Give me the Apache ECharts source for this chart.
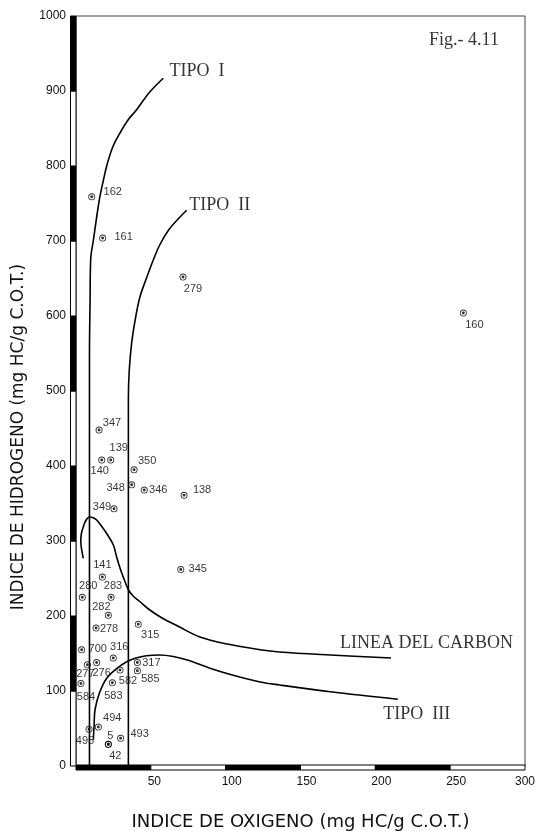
<!DOCTYPE html>
<html><head><meta charset="utf-8">
<script src="https://cdn.jsdelivr.net/npm/echarts@6/dist/echarts.min.js"></script>
<style>html,body{margin:0;padding:0;background:#fff}#c{width:539px;height:831px}</style>
</head><body><div id="c"></div>
<script>
// ---- data ----
const sampleIds = ['162','161','279','160','347','139','140','350','348','346','138','349','345','141','280','283','282','278','315','700','316','317','585','277','276','582','584','583','494','495','493','5','42'];
const oxygenIndex = [10.5,17.8,71.5,258.8,15.4,23.2,17.2,38.8,37.2,45.6,72.2,25.4,70.0,17.6,4.2,23.4,21.6,13.4,41.6,3.8,24.9,41.0,41.0,7.6,13.8,29.4,3.3,24.3,14.9,8.7,29.8,21.6,21.6];
const hydrogenIndex = [759,704,652,604,448,408,408,395,375,368,361,343,262,252,225,225,201,184,189,155,144,138,127,135,138,128,110,111,52,49,37,29,29];
const xTicks = [0,50,100,150,200,250,300];
const yTicks = [0,100,200,300,400,500,600,700,800,900,1000];
const tipoI = [[9,0],[9,550],[9.4,620],[9.8,675],[11.6,701],[15.6,755],[18.3,781],[20.5,800],[24.5,825],[29.4,844],[35,862],[40.5,875],[49,898],[58.3,917]];
const tipoII = [[35,0],[35,490],[35.6,528],[37.2,564],[40,600],[42.8,626],[47,650],[51.7,675],[56,695],[62,715],[69.5,732],[74,741]];
const lineaCarbon = [[4.9,277],[3.8,288],[3.2,300],[3.6,310],[4.9,319],[6.5,327],[8.9,332],[11.5,331],[13.8,328],[17,320],[20.5,310],[24.9,295],[27,280],[29.4,264],[32.7,246],[35,235],[38,227],[42.8,219],[48,210],[56.1,199],[69.5,185],[82.8,172],[100,163],[123,155],[136,152],[170,148],[210.5,144]];
const tipoIII = [[11.6,35],[12.1,55],[12.7,75],[15.6,97],[20.5,117],[27.2,130],[33.9,139],[40,144],[47,147],[56,148],[65,146],[75,141],[90,130],[105,121],[123,112],[136,108],[170,99],[215,89]];
const annotationTexts = ['TIPO  I','TIPO  II','LINEA DEL CARBON','TIPO  III','Fig.- 4.11'];
const annotationAnchors = [[62.5,926],[75.7,747],[176.4,164],[205.3,69],[235.9,968]];
const xTitle = 'INDICE DE OXIGENO (mg HC/g C.O.T.)';
const yTitle = 'INDICE DE HIDROGENO (mg HC/g C.O.T.)';

// ---- label placement (px offsets from each point) ----
const labelOffsets = [[21,-5],[21,-1],[10,12],[11,12],[13,-7],[8,-12],[-2,11],[13,-9],[-16,3],[14,0],[18,-5],[-12,-2],[17,-1],[0,-12],[6,-11],[2,-11],[-7,-8],[13,1],[12,11],[16,-1],[6,-11],[14,0],[13,8],[-2,9],[5,10],[8,11],[5,13],[1,13],[14,-9],[-4,12],[19,-4],[2,-8],[7,12]];

const chart = echarts.init(document.getElementById('c'), null, {renderer:'canvas'});
const SANS = '"Liberation Sans", Arial, sans-serif';
const SERIF = '"Liberation Serif", "Times New Roman", serif';
const ringPath = 'path://M0,-4A4,4 0 1,1 0,4A4,4 0 1,1 0,-4Z M0,-3A3,3 0 1,0 0,3A3,3 0 1,0 0,-3Z M0,-1.7A1.7,1.7 0 1,1 0,1.7A1.7,1.7 0 1,1 0,-1.7Z';

const pts = sampleIds.map((id,i)=>({
  value:[oxygenIndex[i], hydrogenIndex[i]], name:id,
  label:{offset: labelOffsets[i]}
}));

const xSegs = xTicks.slice(0,-1).map((t,i)=>[t, xTicks[i+1], i%2]);
const ySegs = yTicks.slice(0,-1).map((t,i)=>[t, yTicks[i+1], i%2]);

function curve(data){
  return {type:'line', data, showSymbol:false, symbol:'none', smooth:0.35, silent:true,
    lineStyle:{color:'#000', width:1.6}, z:3};
}

chart.setOption({
  animation:false,
  backgroundColor:'#fff',
  grid:{left:76, right:14, top:16, bottom:65, show:true, borderColor:'#444', borderWidth:1, backgroundColor:'transparent', outerBoundsMode:'none', containLabel:false},
  xAxis:{type:'value', min:0, max:300, interval:50,
    axisLine:{show:false}, axisTick:{show:false}, splitLine:{show:false},
    axisLabel:{margin:10, color:'#111', fontFamily:SANS, fontSize:12,
      formatter:v=> v===0 ? '' : (v===300 ? '{e|'+v+'}' : (v===50 ? '{f|'+v+'}' : '{s|'+v+'}')),
      rich:{s:{fontFamily:SANS,fontSize:12,color:'#111',padding:[0,0,0,12]}, f:{fontFamily:SANS,fontSize:12,color:'#111',padding:[0,0,0,7]}, e:{fontFamily:SANS,fontSize:12,color:'#111'}}},
    name:xTitle, nameLocation:'middle', nameGap:47,
    nameTextStyle:{fontFamily:'"DejaVu Sans", sans-serif', fontSize:18, color:'#111'}
  },
  yAxis:{type:'value', min:0, max:1000, interval:100,
    axisLine:{show:false}, axisTick:{show:false}, splitLine:{show:false},
    axisLabel:{margin:10, color:'#111', fontFamily:SANS, fontSize:12, formatter:v=>String(v)}
  },
  graphic:[{type:'text', x:19, y:437, rotation:Math.PI/2,
    style:{text:yTitle, font:'17px "DejaVu Sans", sans-serif', fill:'#111', align:'center', verticalAlign:'middle'}}],
  series:[
    {type:'custom', coordinateSystem:'cartesian2d', clip:false, silent:true, z:5,
      data:xSegs, encode:{x:0},
      renderItem:(params, api)=>{
        const a = api.coord([api.value(0),0]); const b = api.coord([api.value(1),0]);
        return {type:'rect', shape:{x:a[0], y:a[1]-1, width:b[0]-a[0], height:5},
          style:{fill: api.value(2) ? '#fff' : '#000', stroke:'#000', lineWidth:1}};
      }},
    {type:'custom', coordinateSystem:'cartesian2d', clip:false, silent:true, z:5,
      data:ySegs, encode:{y:0},
      renderItem:(params, api)=>{
        const a = api.coord([0,api.value(0)]); const b = api.coord([0,api.value(1)]);
        return {type:'rect', shape:{x:a[0]-5.5, y:b[1], width:5.5, height:a[1]-b[1]},
          style:{fill: api.value(2) ? '#000' : '#fff', stroke:'#000', lineWidth:1}};
      }},
    curve(tipoI), curve(tipoII), curve(lineaCarbon), curve(tipoIII),
    {type:'scatter', data:pts, symbol:ringPath, symbolSize:7, silent:true, z:4,
      itemStyle:{color:'#000'},
      label:{show:true, position:'inside', formatter:p=>p.name, fontFamily:SANS, fontSize:11, color:'#000', align:'center', verticalAlign:'middle'}},
    {type:'scatter', silent:true, symbol:'circle', symbolSize:1, z:6,
      itemStyle:{color:'rgba(0,0,0,0)'},
      data: annotationTexts.map((t,i)=>({value:annotationAnchors[i], name:t})),
      label:{show:true, position:'inside', formatter:p=>p.name, fontFamily:SERIF, fontSize:18, color:'#000', align:'left', verticalAlign:'middle'}}
  ]
});
</script></body></html>
